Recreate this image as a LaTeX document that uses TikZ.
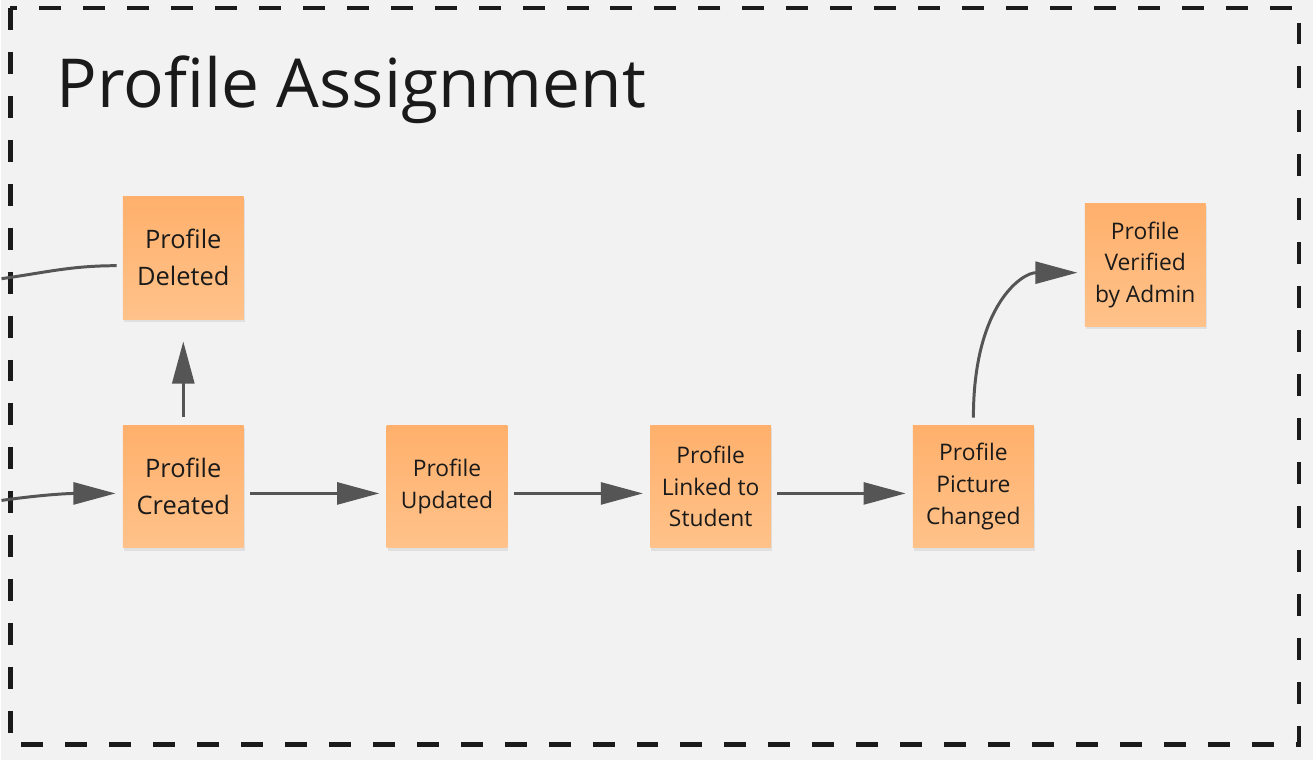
\documentclass[tikz,border=0pt]{standalone}
\usepackage{fontspec}
\setmainfont{Open Sans}
\usepackage{xcolor}
\usetikzlibrary{arrows.meta, shadows}
\definecolor{bgGray}{HTML}{F2F2F2}
\definecolor{stickyTop}{HTML}{FFB06C}
\definecolor{stickyBot}{HTML}{FFC28A}
\definecolor{arrowGray}{HTML}{555555}
\definecolor{inkBlack}{HTML}{1A1A1A}

\begin{document}
\begin{tikzpicture}[x=0.02cm, y=0.02cm,
    sticky/.style={rectangle, top color=stickyTop, bottom color=stickyBot, minimum width=2.42cm, minimum height=2.46cm, inner sep=0pt, align=center, text=inkBlack, drop shadow={shadow xshift=0.02cm, shadow yshift=-0.06cm, opacity=0.07, fill=black}},
    bigtext/.style={font=\fontsize{14.5}{21}\selectfont},
    smalltext/.style={font=\fontsize{13}{18}\selectfont},
    flowline/.style={draw=arrowGray, line width=1.7pt},
    arr/.style={flowline, -{Triangle[length=24pt, width=12.5pt]}}]
            \fill[bgGray] (0, 0) rectangle (1313, 761);
            \draw[line width=2.8pt, dash pattern=on 0.44cm off 0.44cm, inkBlack] (9, 753) rectangle (1299, 16);
            \node[anchor=base west, inner sep=0pt, text=inkBlack, font=\fontsize{38.5}{44}\selectfont] at (55, 653) (title) {Profile Assignment};

            \node[sticky, bigtext] at (182, 503)   (del) {Profile\\Deleted};
            \node[sticky, bigtext] at (182, 274)   (cre) {Profile\\Created};
            \node[sticky, smalltext] at (446, 274)   (upd) {Profile\\Updated};
            \node[sticky, smalltext] at (710, 274)   (lnk) {Profile\\Linked to\\Student};
            \node[sticky, smalltext] at (973, 274)   (pic) {Profile\\Picture\\Changed};
            \node[sticky, smalltext] at (1145, 496)   (ver) {Profile\\Verified\\by Admin};

            \coordinate (outDel) at (0, 482);
            \coordinate (inCre) at (0, 260);

            \draw [flowline] ([xshift=-0.12cm, yshift=-0.16cm]del.west) to[out=180, in=8] (outDel);
            \draw [arr] (inCre) to[out=8, in=180] ([xshift=-0.14cm, yshift=-0.14cm]cre.west);
            \draw [arr] ([yshift=0.16cm]cre.north) -- ([yshift=-0.44cm]del.south);
            \draw [arr] ([xshift=0.12cm, yshift=-0.14cm]cre.east) -- ([xshift=-0.14cm, yshift=-0.14cm]upd.west);
            \draw [arr] ([xshift=0.12cm, yshift=-0.14cm]upd.east) -- ([xshift=-0.14cm, yshift=-0.14cm]lnk.west);
            \draw [arr] ([xshift=0.12cm, yshift=-0.14cm]lnk.east) -- ([xshift=-0.14cm, yshift=-0.14cm]pic.west);
            \draw [arr] ([yshift=0.14cm]pic.north) to[out=90, in=180, out looseness=1.6, in looseness=0.8] ([xshift=-0.14cm, yshift=-0.16cm]ver.west);
        \end{tikzpicture}
\end{document}
